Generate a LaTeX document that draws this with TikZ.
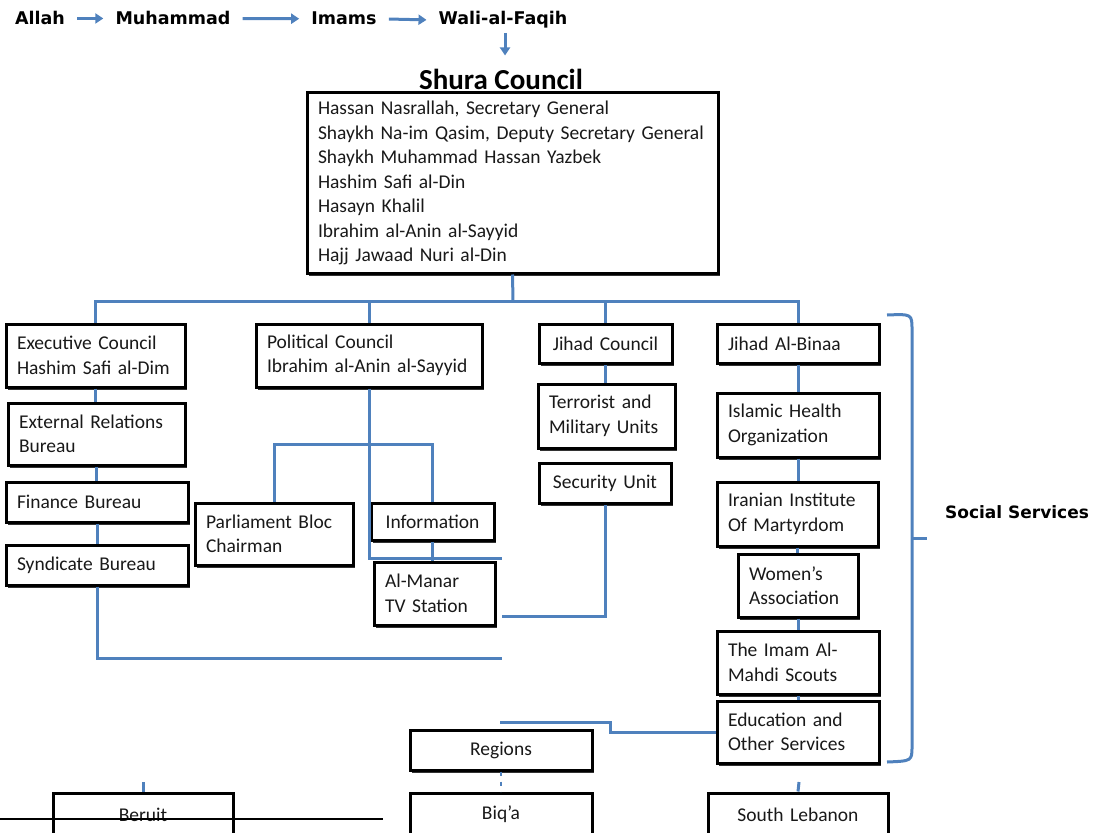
\documentclass[tikz,border=0pt]{standalone}
\usepackage{fontspec}
\setmainfont{Carlito}
\newfontfamily\hfont{DejaVu Sans}
\usetikzlibrary{shadows,arrows.meta}
\definecolor{lnblue}{RGB}{79,129,189}
\definecolor{txt}{RGB}{25,25,25}
\newcommand\mybox[7]{%
  \pgfmathsetmacro\mbw{#4-#2}%
  \pgfmathsetmacro\mbh{#5-#3}%
  \pgfmathsetmacro\mbt{#4-#2-22}%
  \pgfmathsetmacro\mbx{(#2+#4)/2}%
  \pgfmathsetmacro\mby{(#3+#5)/2}%
  \node[box, minimum width=\mbw pt, minimum height=\mbh pt, text width=\mbt pt, align=#6] (#1) at (\mbx,\mby) {#7};}
\begin{document}
\begin{tikzpicture}[x=1pt,y=-1pt,
  box/.style={draw=black, line width=3pt, fill=white, text=txt, inner sep=0pt,
    font=\fontsize{19.5}{24.5}\selectfont,
    drop shadow={shadow xshift=2pt, shadow yshift=-3pt, fill=black!80, opacity=1}},
  conn/.style={draw=lnblue, line width=3pt},
  arr/.style={conn, -{Triangle[length=8pt,width=10pt]}},
  head/.style={inner sep=0pt, anchor=base, font=\hfont\bfseries\fontsize{17.5}{20}\selectfont, text=black}]
\useasboundingbox (0,0) rectangle (1094,832);

% top chain
\node[head] (allah) at (40,25) {Allah};
\node[head] (muhammad) at (173,25) {Muhammad};
\node[head] (imams) at (344,25) {Imams};
\node[head] (wali) at (503,25) {Wali-al-Faqih};
\node[inner sep=0pt, anchor=base, font=\bfseries\fontsize{29}{30}\selectfont, text=black] (shuralabel) at (501,90) {Shura Council};
\draw[arr, shorten <=12pt, shorten >=12pt] (allah.east) -- (muhammad.west);
\draw[arr, shorten <=12pt, shorten >=12pt] (muhammad.east) -- (imams.west);
\draw[arr, shorten <=12pt, shorten >=12pt] (imams.east) -- (wali.west);
\draw[arr, shorten <=4pt, shorten >=14pt] (wali.south -| 505,0) -- (shuralabel.north -| 505,0);

% Shura council box
\mybox{shura}{307}{93}{718}{273}{left}{Hassan Nasrallah, Secretary General\\
Shaykh Na-im Qasim, Deputy Secretary General\\
Shaykh Muhammad Hassan Yazbek\\
Hashim Safi al-Din\\
Hasayn Khalil\\
Ibrahim al-Anin al-Sayyid\\
Hajj Jawaad Nuri al-Din}

% first row
\mybox{exec}{6}{324}{185}{387}{left}{Executive Council\\Hashim Safi al-Dim}
\mybox{political}{256}{324}{482}{387}{left}{Political Council\\Ibrahim al-Anin al-Sayyid}
\mybox{jihad}{539}{324}{672}{363}{center}{Jihad Council}
\mybox{binaa}{717}{324}{879}{363}{left}{Jihad Al-Binaa}

% executive branch
\mybox{extrel}{8}{403}{185}{465}{left}{External Relations\\Bureau}
\mybox{finance}{6}{482}{188}{522}{left}{Finance Bureau}
\mybox{syndicate}{6}{545}{188}{585}{left}{Syndicate Bureau}

% political branch
\mybox{parl}{195}{503}{353}{565}{left}{Parliament Bloc\\Chairman}
\mybox{info}{371}{503}{494}{540}{center}{Information}
\mybox{almanar}{374}{562}{495}{625}{left}{Al-Manar\\TV Station}

% jihad branch
\mybox{terror}{538}{384}{675}{448}{left}{Terrorist and\\Military Units}
\mybox{security}{539}{463}{671}{503}{center}{Security Unit}

% social services
\mybox{health}{717}{393}{879}{457}{left}{Islamic Health\\Organization}
\mybox{iranian}{717}{482}{878}{546}{left}{Iranian Institute\\Of Martyrdom}
\mybox{women}{738}{554}{858}{617}{left}{Women’s\\Association}
\mybox{scouts}{717}{631}{879}{694}{left}{The Imam Al-\\Mahdi Scouts}
\mybox{education}{717}{701}{879}{763}{left}{Education and\\Other Services}

% regions
\mybox{regions}{410}{730}{592}{770}{center}{Regions}
\mybox{beruit}{53}{793}{233}{836}{center}{Beruit}
\mybox{biqa}{410}{793}{592}{836}{center}{Biq’a}
\mybox{south}{708}{793}{888}{836}{center}{South Lebanon}

% connectors
\coordinate (hub) at (513,301);
\draw[conn] (shura.south) -- (hub);
\draw[conn] (exec.north) -- (exec.north |- hub) -- (binaa.north |- hub) -- (binaa.north);
\draw[conn] (political.north) -- (political.north |- hub);
\draw[conn] (jihad.north) -- (jihad.north |- hub);

\draw[conn] (exec.south) -- (exec.south |- extrel.north);
\draw[conn] (extrel.south) -- (extrel.south |- finance.north);
\draw[conn] (finance.south) -- (finance.south |- syndicate.north);
\coordinate (synend) at (502,658);
\draw[conn] (syndicate.south) |- (synend);

\coordinate (polend) at (502,558);
\coordinate (br) at (369,444);
\draw[conn] (political.south) |- (polend);
\draw[conn] (parl.north) -- (parl.north |- br) -- (info.north |- br) -- (info.north);
\draw[conn] (info.south) -- (info.south |- almanar.north);

\draw[conn] (jihad.south) -- (jihad.south |- terror.north);
\coordinate (amend) at (502,616);
\draw[conn] (security.south) |- (amend);

\draw[conn] (binaa.south) -- (binaa.south |- health.north);
\draw[conn] (health.south) -- (health.south |- iranian.north);
\draw[conn] (iranian.south) -- (iranian.south |- women.north);
\draw[conn] (women.south) -- (women.south |- scouts.north);
\draw[conn] (scouts.south) -- (scouts.south |- education.north);

\coordinate (edj) at (610,722);
\coordinate (edend) at (500,722);
\draw[conn] (education.west) -| (edj) -- (edend);

\draw[conn, line width=2.4pt, dash pattern=on 4pt off 6pt] (regions.south) -- (biqa.north);
\coordinate (bstub) at (143,782);
\draw[conn] (bstub) -- (beruit.north);
\coordinate (sstub) at (799,782);
\draw[conn] (sstub) -- (south.north);

% bracket
\draw[conn] (887,315) .. controls (912,314) .. (912,330) -- (912,746) .. controls (912,761) .. (887,762);
\draw[conn] (912,538) -- (927,538);
\node[head, anchor=center, font=\hfont\bfseries\fontsize{17}{20}\selectfont] (social) at (1017,512) {Social Services};

% footnote rule
\coordinate (fl) at (0,819);
\coordinate (fr) at (383,819);
\draw[black, line width=1.8pt] (fl) -- (fr);
\end{tikzpicture}
\end{document}
